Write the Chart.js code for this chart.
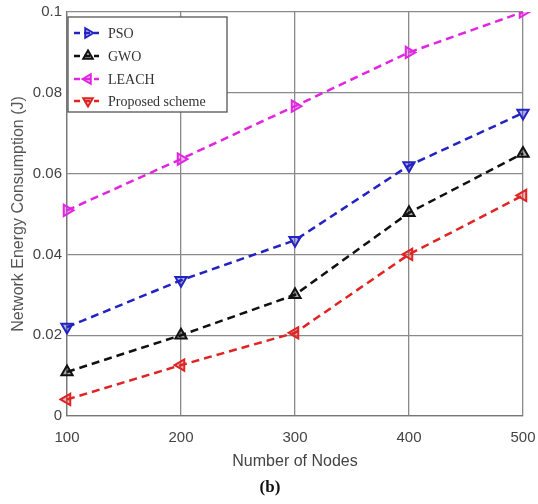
<!DOCTYPE html>
<html>
<head>
<meta charset="utf-8">
<script src="https://cdn.jsdelivr.net/npm/chart.js@4.4.1/dist/chart.umd.min.js"></script>
<style>
  html, body { margin: 0; padding: 0; background: #fff; }
  #wrap { width: 538px; height: 504px; }
</style>
</head>
<body>
<div id="wrap"><canvas id="energyChart" width="538" height="504"></canvas></div>
<script>
// Datos
var nodes = ['100', '200', '300', '400', '500'];
var psoVals = [0.022, 0.0336, 0.0435, 0.062, 0.075];
var gwoVals = [0.0109, 0.020, 0.030, 0.0503, 0.065];
var leachVals = [0.0509, 0.0636, 0.0767, 0.090, 0.100];
var proposedVals = [0.0041, 0.0126, 0.0206, 0.040, 0.0546];
var yTicks = [0, 0.02, 0.04, 0.06, 0.08, 0.1];

// estilo de cada serie: color, rotacion del triangulo en la grafica y en la leyenda
var series = [
    { label: 'PSO', data: psoVals, color: '#2323c4', rot: 180, legRot: 90 },
    { label: 'GWO', data: gwoVals, color: '#111111', rot: 0, legRot: 0 },
    { label: 'LEACH', data: leachVals, color: '#e125e1', rot: 90, legRot: 270 },
    { label: 'Proposed scheme', data: proposedVals, color: '#e02424', rot: 270, legRot: 180 }
];

function hexA(hex, a) {
    var n = parseInt(hex.slice(1), 16);
    return 'rgba(' + (n >> 16) + ',' + ((n >> 8) & 255) + ',' + (n & 255) + ',' + a + ')';
}

function triangle(ctx, x, y, r, rotDeg) {
    var rad = rotDeg * Math.PI / 180;
    ctx.beginPath();
    for (var i = 0; i < 3; i++) {
        var a = rad - Math.PI / 2 + i * 2 * Math.PI / 3;
        var px = x + r * Math.cos(a), py = y + r * Math.sin(a);
        if (i === 0) ctx.moveTo(px, py); else ctx.lineTo(px, py);
    }
    ctx.closePath();
}

// Leyenda dentro del area de la grafica + etiqueta (b)
var legendPlugin = {
    id: 'innerLegend',
    beforeDraw: function (chart) {
        var c = chart.ctx;
        c.save();
        c.fillStyle = '#fff';
        c.fillRect(0, 0, chart.width, chart.height);
        c.restore();
    },
    afterDraw: function (chart) {
        var c = chart.ctx;
        c.save();
        c.fillStyle = '#fff';
        c.fillRect(68, 17, 159, 95);
        c.strokeStyle = '#555';
        c.lineWidth = 1.3;
        c.strokeRect(68, 17, 159, 95);
        var rows = [33, 56, 79, 101];
        series.forEach(function (s, i) {
            var y = rows[i];
            c.strokeStyle = s.color;
            c.lineWidth = 2.5;
            c.setLineDash([6, 4]);
            c.beginPath();
            c.moveTo(74, y);
            c.lineTo(99, y);
            c.stroke();
            c.setLineDash([]);
            triangle(c, 88, y, 5.5, s.legRot);
            c.fillStyle = hexA(s.color, 0.25);
            c.fill();
            c.lineWidth = 2;
            c.stroke();
            c.fillStyle = '#333';
            c.font = '14px "Liberation Serif", "Times New Roman", serif';
            c.textBaseline = 'middle';
            c.textAlign = 'left';
            c.fillText(s.label, 108, y + 1);
        });
        c.fillStyle = '#111';
        c.font = 'bold 17px "Liberation Serif", "Times New Roman", serif';
        c.textAlign = 'center';
        c.textBaseline = 'middle';
        c.fillText('(b)', 270, 488);
        c.restore();
    }
};

var ctx = document.getElementById('energyChart').getContext('2d');
var energyChart = new Chart(ctx, {
    type: 'line',
    data: {
        labels: nodes,
        datasets: series.map(function (s) {
            return {
                label: s.label,
                data: s.data,
                borderColor: s.color,
                borderWidth: 2.5,
                borderDash: [8, 5],
                fill: false,
                tension: 0,
                pointStyle: 'triangle',
                pointRotation: s.rot,
                pointRadius: 6.5,
                pointBorderWidth: 2,
                pointBorderColor: s.color,
                pointBackgroundColor: hexA(s.color, 0.35)
            };
        })
    },
    options: {
        responsive: false,
        animation: false,
        layout: { padding: { top: 12, right: 15, left: 0, bottom: 0 } },
        plugins: {
            legend: { display: false },
            tooltip: { enabled: false }
        },
        scales: {
            x: {
                type: 'category',
                offset: false,
                grid: { color: '#8a8a8a', lineWidth: 1.3, drawTicks: false },
                border: { color: '#777', width: 1.3 },
                ticks: {
                    color: '#444',
                    padding: 13,
                    maxRotation: 0,
                    font: { family: '"Liberation Sans", Arial, sans-serif', size: 15 }
                },
                title: {
                    display: true,
                    text: 'Number of Nodes',
                    color: '#444',
                    padding: { top: 0, bottom: 33 },
                    font: { family: '"Liberation Sans", Arial, sans-serif', size: 16 }
                },
                afterFit: function (scale) {
                    scale.height = 88;
                    scale.paddingLeft = 0;
                    scale.paddingRight = 0;
                }
            },
            y: {
                min: 0,
                max: 0.1,
                afterBuildTicks: function (scale) {
                    scale.ticks = yTicks.map(function (v) { return { value: v }; });
                },
                grid: { color: '#8a8a8a', lineWidth: 1.3, drawTicks: false },
                border: { color: '#777', width: 1.3 },
                ticks: {
                    color: '#444',
                    padding: 5,
                    font: { family: '"Liberation Sans", Arial, sans-serif', size: 15 },
                    callback: function (v) { return String(+v.toFixed(2)); }
                },
                title: {
                    display: true,
                    text: 'Network Energy Consumption (J)',
                    color: '#555',
                    padding: { top: 9, bottom: 0 },
                    font: { family: '"Liberation Sans", Arial, sans-serif', size: 16 }
                },
                afterFit: function (scale) {
                    scale.width = 67;
                    scale.paddingTop = 0;
                    scale.paddingBottom = 0;
                }
            }
        }
    },
    plugins: [legendPlugin]
});
</script>
</body>
</html>
